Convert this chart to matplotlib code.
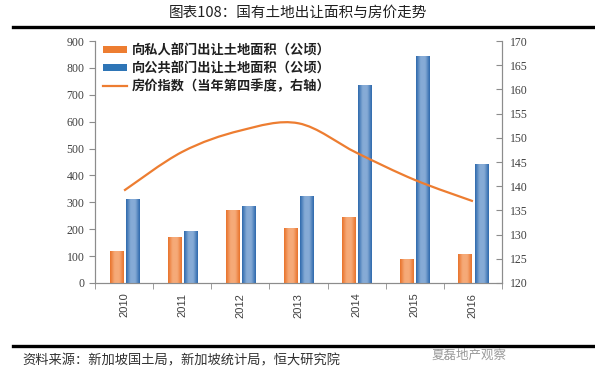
import numpy as np
import matplotlib
matplotlib.use("Agg")
import matplotlib.pyplot as plt
from matplotlib.path import Path
from matplotlib.patches import PathPatch, Patch
from matplotlib.lines import Line2D
from matplotlib.colors import LinearSegmentedColormap

plt.rcParams['font.family'] = ['Noto Sans CJK SC', 'DejaVu Sans']

# data
years = ['2010', '2011', '2012', '2013', '2014', '2015', '2016']
private_area = [117, 170, 270, 202, 243, 87, 107]
public_area = [309, 193, 286, 320, 735, 843, 441]
price_index = [139.1, 147.1, 151.5, 153.0, 146.9, 141.3, 136.9]

label_private = '向私人部门出让土地面积（公顷）'
label_public = '向公共部门出让土地面积（公顷）'
label_price = '房价指数（当年第四季度，右轴）'

orange = '#ED7D31'
blue = '#2E75B6'
tick_col = '#404040'
spine_col = '#8c8c8c'
serif = 'Liberation Serif'

fig = plt.figure(figsize=(5.95, 3.8), dpi=100)
ax = fig.add_axes([0.1597, 0.2553, 0.684, 0.6367])
ax2 = ax.twinx()

x = np.arange(len(years))
w = 0.224
b1 = ax.bar(x - 0.138, private_area, w, color=orange, zorder=2)
b2 = ax.bar(x + 0.14, public_area, w, color=blue, zorder=2)

# fake the excel-style gradient fill on the bars
def shade(bars, dark, light):
    cmap = LinearSegmentedColormap.from_list('g', [dark, light, light, dark])
    grad = np.linspace(0, 1, 64).reshape(1, -1)
    for p in bars:
        x0, h, bw = p.get_x(), p.get_height(), p.get_width()
        ax.imshow(grad, cmap=cmap, aspect='auto', extent=[x0, x0 + bw, 0, h],
                  zorder=3, interpolation='bicubic')

shade(b1, '#E8722A', '#F6AA78')
shade(b2, '#2D68AC', '#86ABD6')

ax.set_xlim(-0.5, len(years) - 0.5)
ax.set_ylim(0, 900)
ax.set_yticks(np.arange(0, 901, 100))
ax.set_xticks(x)
ax.set_xticklabels(years, rotation=90, fontsize=8, family='Liberation Sans',
                   color=tick_col)
ax.set_xticks(np.arange(-0.5, len(years), 1), minor=True)
ax.tick_params(axis='x', which='major', length=0, pad=7)
ax.tick_params(axis='x', which='minor', length=4, direction='out', color=spine_col)
ax.tick_params(axis='y', length=4, direction='out', color=spine_col,
               labelsize=8.5, labelcolor=tick_col)
for t in ax.get_yticklabels():
    t.set_family(serif)

# smooth line for price index (bezier through the points, like excel)
pts = np.column_stack([x, price_index]).astype(float)
ext = np.vstack([pts[0], pts, pts[-1]])
verts = [tuple(pts[0])]
codes = [Path.MOVETO]
for i in range(len(pts) - 1):
    p0, p1, p2, p3 = ext[i], ext[i + 1], ext[i + 2], ext[i + 3]
    c1 = p1 + (p2 - p0) / 6
    c2 = p2 - (p3 - p1) / 6
    verts += [tuple(c1), tuple(c2), tuple(p2)]
    codes += [Path.CURVE4] * 3
ax2.add_patch(PathPatch(Path(verts, codes), facecolor='none',
                        edgecolor=orange, lw=1.6, zorder=4))
ax2.set_ylim(120, 170)
ax2.set_yticks(np.arange(120, 171, 5))
ax2.tick_params(axis='y', length=4, direction='in', color=spine_col,
                labelsize=8.5, labelcolor=tick_col, pad=6)
for t in ax2.get_yticklabels():
    t.set_family(serif)

for a in (ax, ax2):
    a.spines['top'].set_visible(False)
    for s in ('left', 'right', 'bottom'):
        a.spines[s].set_color(spine_col)

handles = [Patch(facecolor=orange), Patch(facecolor=blue),
           Line2D([], [], color=orange, lw=1.6)]
leg = ax.legend(handles, [label_private, label_public, label_price],
                loc='upper left', bbox_to_anchor=(-0.01, 1.04), frameon=False,
                fontsize=9.5, handlelength=1.8, handleheight=0.45,
                handletextpad=0.4, labelspacing=0.3)
for t in leg.get_texts():
    t.set_fontweight('bold')
    t.set_color('#202020')

fig.text(0.5, 0.966, '图表108：国有土地出让面积与房价走势', ha='center', va='center',
         fontsize=10.5, color='#202020')
fig.add_artist(Line2D([0.022, 1.0], [0.929, 0.929], color='black', lw=2.4,
                      transform=fig.transFigure))
fig.add_artist(Line2D([0.022, 1.0], [0.0895, 0.0895], color='black', lw=2.4,
                      transform=fig.transFigure))
fig.text(0.037, 0.05, '资料来源：新加坡国土局，新加坡统计局，恒大研究院', ha='left',
         va='center', fontsize=9.5, color='#303030')
fig.text(0.725, 0.066, '夏磊地产观察', ha='left', va='center', fontsize=9,
         color='#9a9a9a')

fig.savefig('out.png', dpi=100)
